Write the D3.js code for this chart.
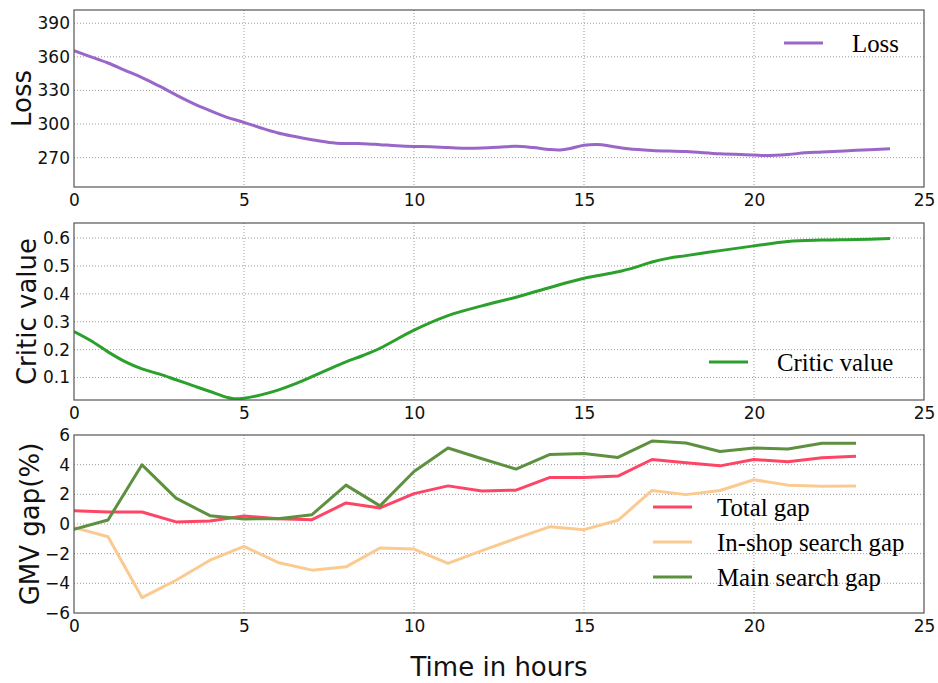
<!DOCTYPE html>
<html>
<head>
<meta charset="utf-8">
<script src="https://cdn.jsdelivr.net/npm/d3@7"></script>
<style>
  html, body { margin: 0; padding: 0; background: #fff; }
  svg { display: block; }
</style>
</head>
<body>
<svg id="chart" width="938" height="683"></svg>
<script>
// Training loss over time (hours)
const lossHours = [0, 0.5, 1, 1.5, 2, 2.5, 3, 3.5, 4, 4.5, 5, 5.5, 6, 6.5, 7, 7.5, 8, 8.5, 9, 9.5, 10, 10.5, 11, 11.5, 12, 12.5, 13, 13.5, 14, 14.3, 14.6, 15, 15.4, 15.8, 16.3, 17, 18, 19, 20, 20.3, 21, 21.5, 22, 23, 24];
const lossValues = [365.5, 360, 354.5, 348, 341.5, 334, 326, 318.5, 312, 306, 301.5, 296.5, 292, 288.8, 286, 283.6, 282.6, 282.5, 281.6, 280.6, 280, 279.8, 279, 278.4, 278.6, 279.3, 280.2, 279, 277.2, 276.9, 278.2, 281, 281.8, 280.2, 277.9, 276.4, 275.4, 273.5, 272.4, 271.9, 272.8, 274.3, 275, 276.5, 278];

// Critic value over time (hours)
const criticHours = [0, 0.5, 1, 1.5, 2, 2.5, 3, 3.5, 4, 4.5, 4.7, 5, 5.5, 6, 6.5, 7, 7.5, 8, 8.5, 9, 10, 11, 12, 13, 14, 15, 16, 16.5, 17, 17.5, 18, 19, 20, 21, 22, 23, 24];
const criticValues = [0.265, 0.232, 0.192, 0.157, 0.131, 0.113, 0.092, 0.071, 0.050, 0.029, 0.024, 0.026, 0.038, 0.055, 0.077, 0.103, 0.130, 0.156, 0.179, 0.205, 0.270, 0.322, 0.357, 0.388, 0.423, 0.456, 0.479, 0.495, 0.514, 0.528, 0.537, 0.555, 0.572, 0.588, 0.593, 0.595, 0.598];

// Hourly GMV gaps (%)
const gmvHours = d3.range(0, 24);
const totalGap = [0.90, 0.81, 0.81, 0.14, 0.20, 0.54, 0.36, 0.29, 1.42, 1.08, 2.05, 2.57, 2.23, 2.28, 3.14, 3.14, 3.23, 4.35, 4.13, 3.92, 4.35, 4.20, 4.47, 4.56];
const inShopGap = [-0.23, -0.86, -4.96, -3.79, -2.44, -1.51, -2.59, -3.11, -2.89, -1.62, -1.69, -2.66, -1.80, -0.97, -0.18, -0.38, 0.25, 2.26, 1.98, 2.26, 2.98, 2.62, 2.55, 2.57];
const mainGap = [-0.36, 0.27, 3.99, 1.74, 0.56, 0.34, 0.36, 0.63, 2.62, 1.22, 3.54, 5.12, 4.40, 3.70, 4.69, 4.76, 4.49, 5.59, 5.46, 4.89, 5.12, 5.05, 5.44, 5.44];

// Axis ticks
const xTicks = [0, 5, 10, 15, 20, 25];
const lossTicks = [270, 300, 330, 360, 390];
const criticTicks = [0.1, 0.2, 0.3, 0.4, 0.5, 0.6];
const gmvTicks = [-6, -4, -2, 0, 2, 4, 6];

const svg = d3.select("#chart");
const left = 74, right = 924;
const x = d3.scaleLinear().domain([0, 25]).range([left, right]);

const tickFont = "'DejaVu Sans', sans-serif";
const legendFont = "'Liberation Serif', 'Times New Roman', serif";
const fmtMinus = s => String(s).replace("-", "\u2212");

function panel(opts) {
  const y = d3.scaleLinear().domain(opts.domain).range([opts.bottom, opts.top]);
  const g = svg.append("g");

  // dotted grid
  g.append("g").selectAll("line").data(xTicks.slice(1, -1)).join("line")
    .attr("x1", d => x(d)).attr("x2", d => x(d))
    .attr("y1", opts.top).attr("y2", opts.bottom)
    .attr("stroke", "#9a9a9a").attr("stroke-width", 1).attr("stroke-dasharray", "1,2");
  g.append("g").selectAll("line").data(opts.ticks.filter(t => y(t) > opts.top + 1 && y(t) < opts.bottom - 1)).join("line")
    .attr("x1", left).attr("x2", right)
    .attr("y1", d => y(d)).attr("y2", d => y(d))
    .attr("stroke", "#9a9a9a").attr("stroke-width", 1).attr("stroke-dasharray", "1,2");

  // axes (labels only, no tick marks)
  const xAxis = d3.axisBottom(x).tickValues(xTicks).tickSize(0).tickPadding(7).tickFormat(d3.format("d"));
  const xa = g.append("g").attr("transform", `translate(0,${opts.bottom})`).call(xAxis);
  xa.select(".domain").remove();
  xa.selectAll("text").attr("font-family", tickFont).attr("font-size", 17).attr("fill", "#111");

  const yAxis = d3.axisLeft(y).tickValues(opts.ticks).tickSize(0).tickPadding(4).tickFormat(d => fmtMinus(opts.fmt(d)));
  const ya = g.append("g").attr("transform", `translate(${left},0)`).call(yAxis);
  ya.select(".domain").remove();
  ya.selectAll("text").attr("font-family", tickFont).attr("font-size", 17).attr("fill", "#111");

  // y label
  g.append("text")
    .attr("transform", `translate(${opts.labelX},${(opts.top + opts.bottom) / 2}) rotate(-90)`)
    .attr("text-anchor", "middle")
    .attr("font-family", tickFont).attr("font-size", 26).attr("fill", "#111")
    .text(opts.label);

  // series
  const clipId = "clip" + opts.top;
  svg.append("clipPath").attr("id", clipId).append("rect")
    .attr("x", left).attr("y", opts.top).attr("width", right - left).attr("height", opts.bottom - opts.top);
  opts.series.forEach(s => {
    const pts = s.xs.map((t, i) => [t, s.ys[i]]);
    g.append("path").datum(pts)
      .attr("clip-path", `url(#${clipId})`)
      .attr("fill", "none").attr("stroke", s.color).attr("stroke-width", s.width || 3)
      .attr("stroke-linejoin", "round")
      .attr("d", d3.line().x(d => x(d[0])).y(d => y(d[1])).curve(s.curve || d3.curveLinear));
  });

  // frame
  g.append("rect").attr("x", left).attr("y", opts.top)
    .attr("width", right - left).attr("height", opts.bottom - opts.top)
    .attr("fill", "none").attr("stroke", "#555").attr("stroke-width", 1.2);

  // legend
  opts.legend.items.forEach((it, i) => {
    const ly = opts.legend.y + i * opts.legend.step;
    g.append("line")
      .attr("x1", opts.legend.x).attr("x2", opts.legend.x + 39)
      .attr("y1", ly).attr("y2", ly)
      .attr("stroke", it.color).attr("stroke-width", 3);
    g.append("text")
      .attr("x", opts.legend.textX).attr("y", ly + 9)
      .attr("font-family", legendFont).attr("font-size", 24.8).attr("fill", "#000")
      .text(it.name);
  });
}

const lossColor = "#9a66c8";
const criticColor = "#2ca02c";
const totalColor = "#ff4565";
const inShopColor = "#fbca90";
const mainColor = "#5e913f";

panel({
  top: 10, bottom: 187, domain: [243.8, 401.8], ticks: lossTicks, fmt: d3.format("d"),
  label: "Loss", labelX: 31,
  series: [{ xs: lossHours, ys: lossValues, color: lossColor, curve: d3.curveCatmullRom }],
  legend: { x: 784, textX: 852, y: 43, step: 0, items: [{ name: "Loss", color: lossColor }] }
});

panel({
  top: 223, bottom: 400, domain: [0.0195, 0.654], ticks: criticTicks, fmt: d3.format(".1f"),
  label: "Critic value", labelX: 36,
  series: [{ xs: criticHours, ys: criticValues, color: criticColor, curve: d3.curveCatmullRom }],
  legend: { x: 709, textX: 777, y: 362, step: 0, items: [{ name: "Critic value", color: criticColor }] }
});

panel({
  top: 435, bottom: 613, domain: [-6, 6], ticks: gmvTicks, fmt: d3.format("d"),
  label: "GMV gap(%)", labelX: 39,
  series: [
    { xs: gmvHours, ys: inShopGap, color: inShopColor },
    { xs: gmvHours, ys: totalGap, color: totalColor },
    { xs: gmvHours, ys: mainGap, color: mainColor }
  ],
  legend: { x: 653, textX: 717, y: 507, step: 35, items: [
    { name: "Total gap", color: totalColor },
    { name: "In-shop search gap", color: inShopColor },
    { name: "Main search gap", color: mainColor }
  ] }
});

// shared x label
svg.append("text")
  .attr("x", (left + right) / 2).attr("y", 676)
  .attr("text-anchor", "middle")
  .attr("font-family", tickFont).attr("font-size", 26).attr("fill", "#111")
  .text("Time in hours");
</script>
</body>
</html>
